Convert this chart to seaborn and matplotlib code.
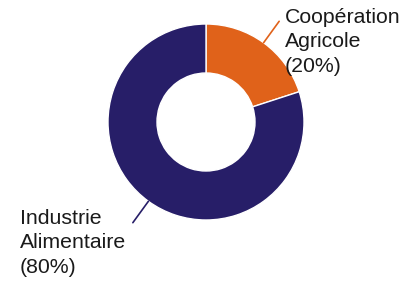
import matplotlib
matplotlib.use("Agg")
import matplotlib.pyplot as plt
import seaborn as sns
import numpy as np

# parts of the donut, in percent
labels = ["Coopération\nAgricole", "Industrie\nAlimentaire"]
shares = [20, 80]
colors = ["#E0621A", "#271E68"]

sns.set_style("white")
plt.rcParams["font.family"] = ["Liberation Sans", "DejaVu Sans"]

fig = plt.figure(figsize=(4.06, 2.84), dpi=100)
# donut centre around (206, 122) px, radius ~98 px
ax = fig.add_axes([108 / 406, (284 - 220) / 284, 196 / 406, 196 / 284])

wedges, _ = ax.pie(shares, colors=colors, startangle=90, counterclock=False,
                   radius=1.0,
                   wedgeprops=dict(width=0.5, edgecolor="white", linewidth=1))
ax.set_xlim(-1, 1)
ax.set_ylim(-1, 1)
ax.set_aspect("equal")
ax.axis("off")

# leader lines + labels
text_pos = [(285 / 406, 1 - 8 / 284, "left"), (20 / 406, 1 - 209 / 284, "left")]
for w, lab, val, col, (tx, ty, ha) in zip(wedges, labels, shares, colors, text_pos):
    mid = np.deg2rad((w.theta1 + w.theta2) / 2)
    x0, y0 = np.cos(mid) * 1.0, np.sin(mid) * 1.0
    x1, y1 = np.cos(mid) * 1.27, np.sin(mid) * 1.27
    ax.plot([x0, x1], [y0, y1], color=col, lw=1.2, clip_on=False)
    fig.text(tx, ty, f"{lab}\n({val}%)", ha=ha, va="top", fontsize=15.3,
             color="#1a1a1a", linespacing=1.36)

fig.savefig("out.png", dpi=100)
